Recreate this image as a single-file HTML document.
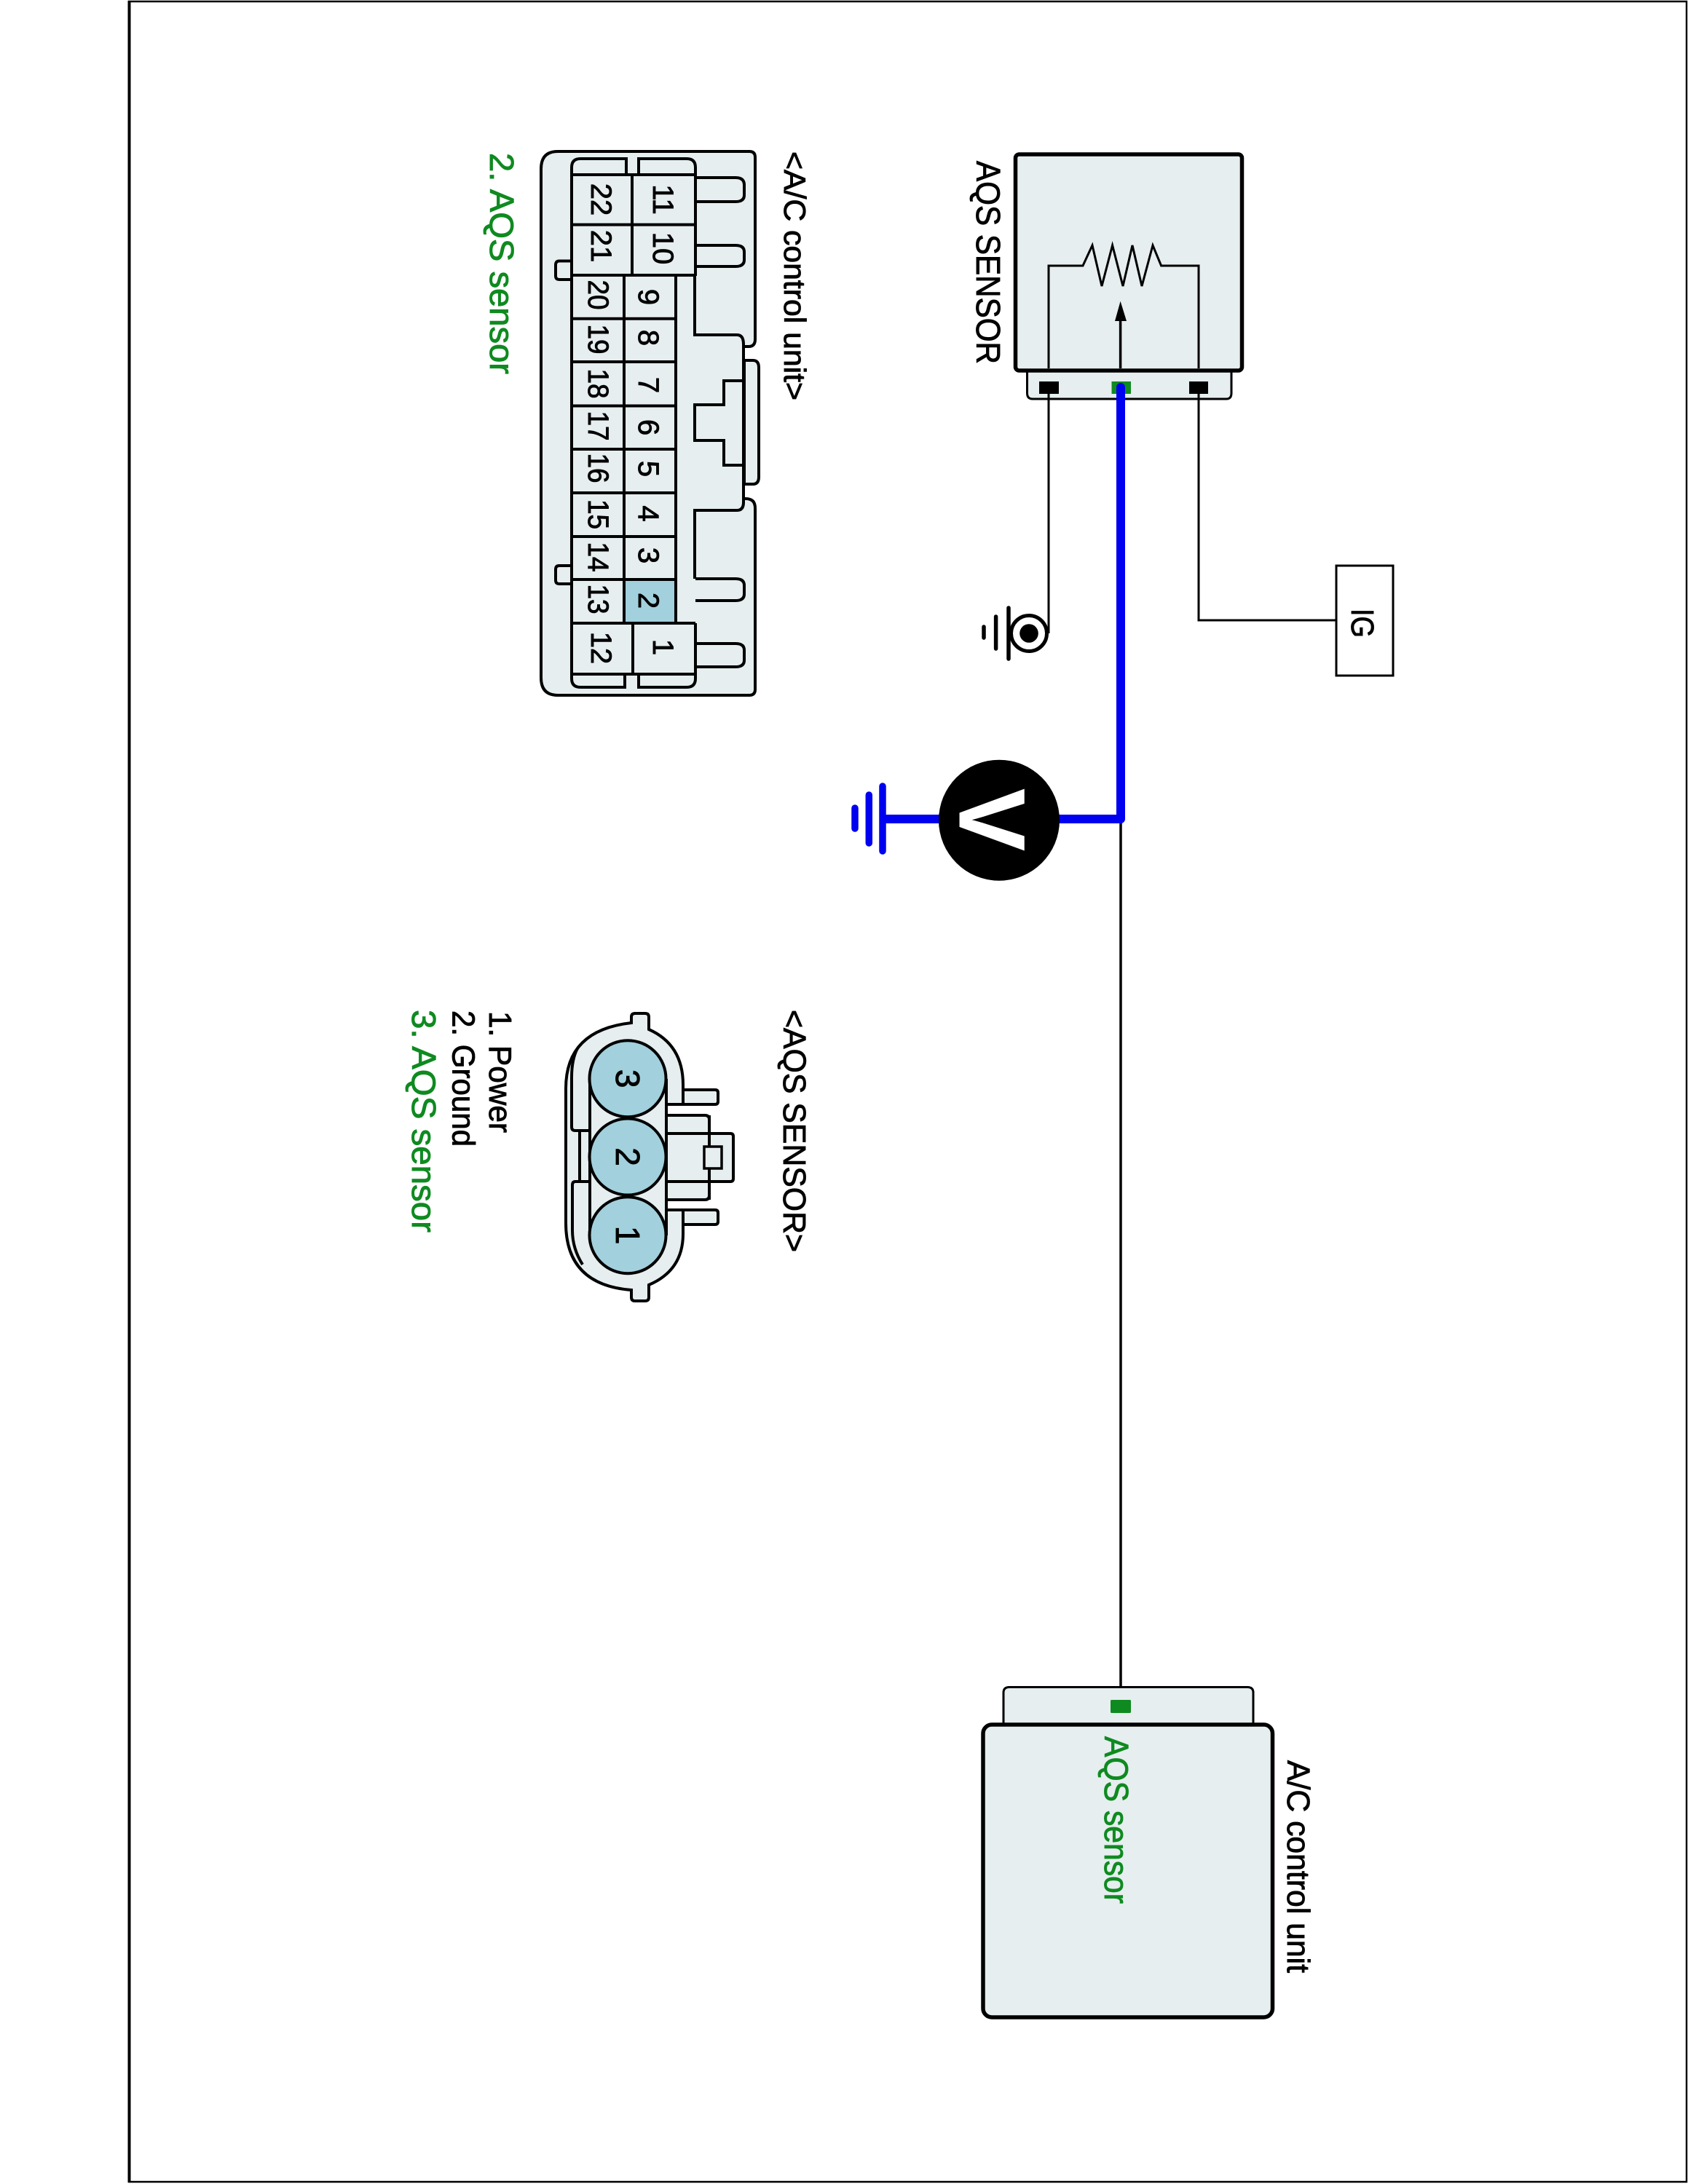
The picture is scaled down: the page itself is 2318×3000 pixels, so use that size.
<!DOCTYPE html>
<html>
<head>
<meta charset="utf-8">
<style>
html,body{margin:0;padding:0;background:#fff;width:2318px;height:3000px;overflow:hidden}
svg{display:block}
text{font-family:"Liberation Sans",sans-serif;fill:#000;stroke:#000;stroke-width:.9}
.g{fill:#0f8a20;stroke:#0f8a20}
.n{font-size:40px;text-anchor:middle}
.f{fill:#e6eeef}
.l{fill:none;stroke:#000;stroke-width:3}
.c{fill:#e6eeef;stroke:#000;stroke-width:4}
.h{fill:none;stroke:#000;stroke-width:4}
</style>
</head>
<body>
<svg width="2318" height="3000" viewBox="0 0 2318 3000" xmlns="http://www.w3.org/2000/svg">
<rect width="2318" height="3000" fill="#fff"/>
<!-- page frame -->
<path d="M177.500 1V2998" stroke="#000" stroke-width="4" fill="none"/>
<path d="M176 2H2316V2997H176" stroke="#000" stroke-width="2.400" fill="none"/>

<!-- AC connector -->
<path class="c" d="M1022 495H1034Q1042 495 1042 505V655Q1042 665 1034 665H1022Z"/>
<path class="c" d="M1021 476H1028Q1037 476 1037 466V216Q1037 208 1029 208H766Q743 208 743 232V931Q743 955 766 955H1029Q1037 955 1037 947V698Q1037 685 1024 685H1021Z" stroke-linejoin="round"/>
<path class="f" d="M956 381V460H1012Q1019 460 1019 473V690Q1019 699 1012 699H956V795H1019V381Z"/>
<path class="h" d="M954 379V460H1012Q1021 460 1021 473V690Q1021 701 1012 701H954V795"/>
<path class="h" d="M1021 523H994V556H954V605H994V639H1021"/>
<!-- latch tabs right -->
<path class="h" d="M955 244H1010Q1022 244 1022 254V268Q1022 277 1010 277H955"/>
<path class="h" d="M955 337H1010Q1022 337 1022 346V357Q1022 366 1010 366H955"/>
<path class="h" d="M955 795H1010Q1022 795 1022 804V816Q1022 825 1010 825H955"/>
<path class="h" d="M955 884H1010Q1022 884 1022 893V907Q1022 916 1010 916H955"/>
<!-- latch tabs left -->
<path class="c" d="M784 358.500H768Q763 358.500 763 364V379Q763 384 768 384H784"/>
<path class="c" d="M784 777H768Q763 777 763 782V797Q763 802 768 802H784"/>
<!-- inner tabs -->
<path class="h" d="M860 240V218H797Q785 218 785 230V240M877 240V218H943Q955 218 955 230V240"/>
<path class="h" d="M858 926V944H797Q785 944 785 932V926M877 926V944H943Q955 944 955 932V926"/>
<!-- cell 2 fill -->
<rect x="857" y="796" width="71" height="60" fill="#a2d0dd"/>
<!-- grid -->
<path class="h" d="M785 230V932M955 230V379M955 856V932"/>
<path class="h" d="M785 240H955M785 308.600H955M785 378H955M868 240V378"/>
<path class="h" d="M785 437.700H928M785 497H928M785 557.500H928M785 617H928M785 677H928M785 737H928M785 796H928M785 856H955M785 926H955M869 856V926M857 378V856M928 378V856"/>

<!-- cell numbers -->
<text class="n" transform="translate(812,274) rotate(90)">22</text>
<text class="n" transform="translate(812,338) rotate(90)">21</text>
<text class="n" transform="translate(812,890) rotate(90)">12</text>
<text class="n" transform="translate(897,274) rotate(90)">11</text>
<text class="n" transform="translate(897,341) rotate(90)">10</text>
<text class="n" transform="translate(897,889) rotate(90)">1</text>
<text class="n" transform="translate(808,405) rotate(90)" textLength="41" lengthAdjust="spacingAndGlyphs">20</text>
<text class="n" transform="translate(808,466) rotate(90)" textLength="41" lengthAdjust="spacingAndGlyphs">19</text>
<text class="n" transform="translate(808,527) rotate(90)" textLength="41" lengthAdjust="spacingAndGlyphs">18</text>
<text class="n" transform="translate(808,585) rotate(90)" textLength="41" lengthAdjust="spacingAndGlyphs">17</text>
<text class="n" transform="translate(808,643) rotate(90)" textLength="41" lengthAdjust="spacingAndGlyphs">16</text>
<text class="n" transform="translate(808,706.500) rotate(90)" textLength="41" lengthAdjust="spacingAndGlyphs">15</text>
<text class="n" transform="translate(808,765) rotate(90)" textLength="41" lengthAdjust="spacingAndGlyphs">14</text>
<text class="n" transform="translate(808,823) rotate(90)" textLength="41" lengthAdjust="spacingAndGlyphs">13</text>
<text class="n" transform="translate(877,408) rotate(90)">9</text>
<text class="n" transform="translate(877,464) rotate(90)">8</text>
<text class="n" transform="translate(877,529) rotate(90)">7</text>
<text class="n" transform="translate(877,587) rotate(90)">6</text>
<text class="n" transform="translate(877,644) rotate(90)">5</text>
<text class="n" transform="translate(877,705.500) rotate(90)">4</text>
<text class="n" transform="translate(877,763) rotate(90)">3</text>
<text class="n" transform="translate(877,825) rotate(90)">2</text>

<text transform="translate(1077,208) rotate(90)" font-size="42" textLength="342" lengthAdjust="spacingAndGlyphs">&lt;A/C control unit&gt;</text>
<text class="g" transform="translate(673,210) rotate(90)" font-size="46" textLength="304" lengthAdjust="spacingAndGlyphs">2. AQS sensor</text>

<!-- AQS sensor box -->
<path d="M1410.500 509V540Q1410.500 548 1418 548H1684Q1691 548 1691 540V509" fill="#e6eeef" stroke="#000" stroke-width="3"/>
<rect x="1394.500" y="212" width="311" height="297" rx="5" fill="#e6eeef" stroke="#000" stroke-width="5.500"/>
<path class="l" d="M1440 506V365H1487L1500 337L1513 393L1527.600 337L1542 393L1555 337L1568 393L1583 337L1594.600 365H1646V506" stroke-linejoin="miter"/>
<path d="M1538.600 506V438" stroke="#000" stroke-width="3.500"/>
<path d="M1538.600 413.700L1547 441H1531Z" fill="#000"/>
<rect x="1427" y="524" width="27" height="17" fill="#000"/>
<rect x="1633" y="524" width="26" height="17" fill="#000"/>
<rect x="1526.500" y="524" width="26.500" height="17" fill="#0f8a20"/>
<text transform="translate(1341,221) rotate(90)" font-size="46" textLength="279" lengthAdjust="spacingAndGlyphs">AQS SENSOR</text>

<!-- wires -->
<path class="l" d="M1440 541V870"/>
<path class="l" d="M1646 541V852H1837"/>
<rect x="1835" y="777" width="78" height="151" fill="#fff" stroke="#000" stroke-width="3"/>
<text transform="translate(1856,836) rotate(90)" font-size="44" textLength="40" lengthAdjust="spacingAndGlyphs">IG</text>

<!-- ground 1 -->
<circle cx="1413" cy="870" r="24.500" fill="none" stroke="#000" stroke-width="5"/>
<circle cx="1413" cy="870" r="12.800" fill="#000"/>
<path d="M1385 835V905M1367.600 847V891M1351 861V876" stroke="#000" stroke-width="5.500" stroke-linecap="round" fill="none"/>

<!-- black wire to AC unit -->
<path d="M1539 1125V2336" stroke="#000" stroke-width="3.500" fill="none"/>
<!-- blue wire -->
<path d="M1539 532V1125H1217" stroke="#0000f0" stroke-width="12" fill="none" stroke-linecap="round" stroke-linejoin="round"/>
<path d="M1212 1080V1169M1193.300 1092V1158M1174 1110V1138" stroke="#0000f0" stroke-width="9.500" stroke-linecap="round" fill="none"/>
<circle cx="1372" cy="1126.700" r="83" fill="#000"/>
<text transform="translate(1318,1126) rotate(90)" font-size="128" font-weight="bold" text-anchor="middle" style="fill:#fff;stroke:#fff">V</text>

<!-- AQS sensor connector -->
<path class="c" d="M938 1497H982Q986 1497 986 1501V1513Q986 1517 982 1517H938Z"/>
<path class="c" d="M938 1662H982Q986 1662 986 1666V1678Q986 1682 982 1682H938Z"/>
<path class="c" d="M915 1532H968Q974 1532 974 1538V1642Q974 1648 968 1648H915Z"/>
<path class="c" d="M915 1557H1003Q1007 1557 1007 1561V1619Q1007 1623 1003 1623H915Z"/>
<path class="h" d="M974 1532V1648"/>
<rect x="967" y="1575" width="24" height="30" fill="#e6eeef" stroke="#000" stroke-width="3.500"/>
<path class="c" d="M891 1414Q938 1435 938 1490V1517H915V1662H938V1695Q938 1745 891 1765V1782Q891 1787 886 1787H872Q867 1787 867 1782V1772Q777 1765 777 1680V1495Q777 1415 867 1405V1397Q867 1392 872 1392H886Q891 1392 891 1397Z"/>
<path class="h" d="M793 1440Q785 1455 785 1480V1548Q785 1553 790 1553H810M810 1623H790Q786 1623 786 1628V1690Q786 1715 800 1737M796 1553V1623"/>
<rect x="810" y="1482" width="105" height="215" fill="#e6eeef"/>
<path class="h" d="M810 1482V1697M915 1482V1697"/>
<circle cx="862" cy="1481.700" r="52.500" fill="#a2d0dd" stroke="#000" stroke-width="4"/>
<circle cx="862" cy="1589" r="52.500" fill="#a2d0dd" stroke="#000" stroke-width="4"/>
<circle cx="862" cy="1696.700" r="52.500" fill="#a2d0dd" stroke="#000" stroke-width="4"/>
<text transform="translate(846,1481.700) rotate(90)" font-size="46" text-anchor="middle">3</text>
<text transform="translate(846,1589) rotate(90)" font-size="46" text-anchor="middle">2</text>
<text transform="translate(846,1696.700) rotate(90)" font-size="46" text-anchor="middle">1</text>

<text transform="translate(1076,1387) rotate(90)" font-size="44" textLength="333" lengthAdjust="spacingAndGlyphs">&lt;AQS SENSOR&gt;</text>
<text transform="translate(672,1389) rotate(90)" font-size="44" textLength="167" lengthAdjust="spacingAndGlyphs">1. Power</text>
<text transform="translate(621.500,1388) rotate(90)" font-size="44" textLength="187" lengthAdjust="spacingAndGlyphs">2. Ground</text>
<text class="g" transform="translate(566,1387) rotate(90)" font-size="46" textLength="306" lengthAdjust="spacingAndGlyphs">3. AQS sensor</text>

<!-- AC control unit -->
<path d="M1378 2369V2325Q1378 2317.500 1386 2317.500H1713Q1721 2317.500 1721 2325V2369" fill="#e6eeef" stroke="#000" stroke-width="3"/>
<rect x="1350" y="2369" width="397.500" height="402" rx="12" fill="#e6eeef" stroke="#000" stroke-width="5.500"/>
<rect x="1525" y="2335" width="28" height="18" rx="1.500" fill="#0f8a20"/>
<text class="g" transform="translate(1517,2385) rotate(90)" font-size="46" textLength="230" lengthAdjust="spacingAndGlyphs">AQS sensor</text>
<text transform="translate(1768,2418) rotate(90)" font-size="44" textLength="292" lengthAdjust="spacingAndGlyphs">A/C control unit</text>
</svg>
</body>
</html>
